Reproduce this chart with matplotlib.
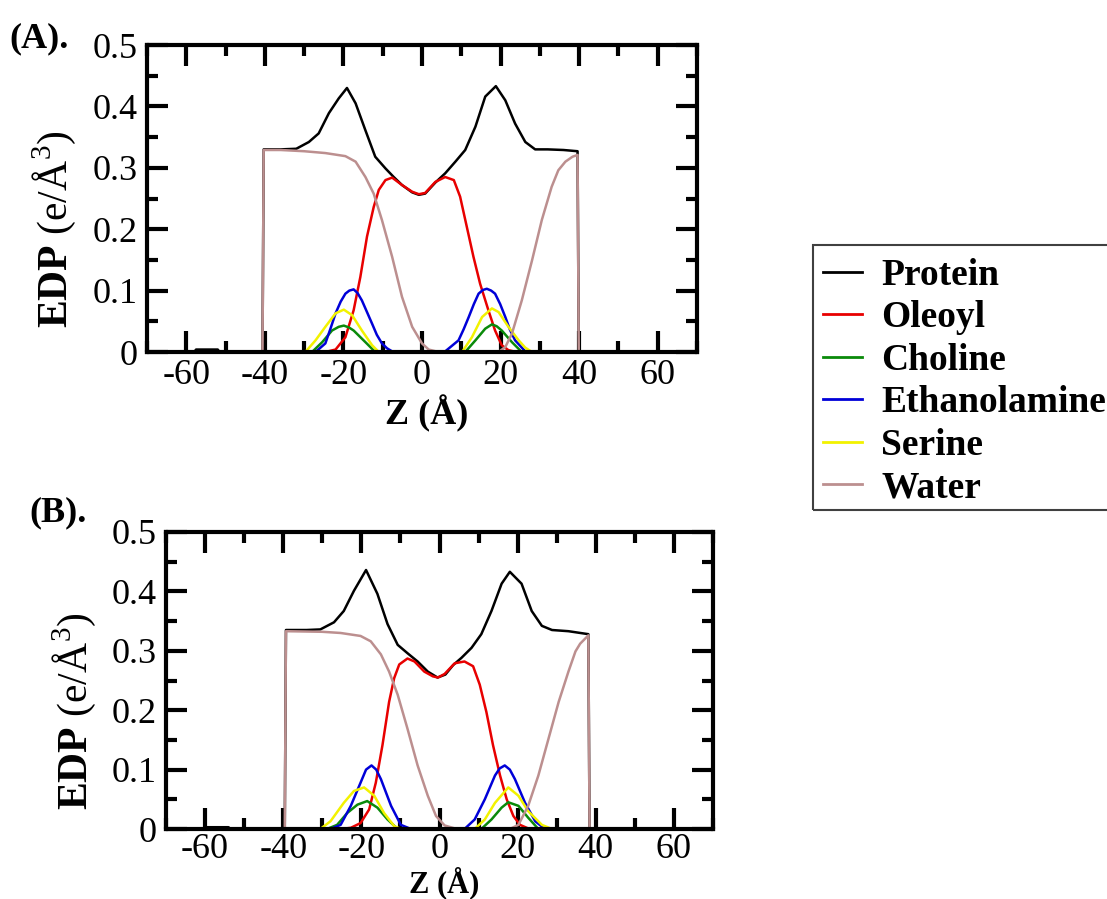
import matplotlib
matplotlib.use('Agg')
import matplotlib.pyplot as plt
from matplotlib.patches import Rectangle
from matplotlib.ticker import MultipleLocator

plt.rcParams['font.family'] = ['Liberation Serif', 'DejaVu Serif']
plt.rcParams['mathtext.fontset'] = 'custom'
plt.rcParams['mathtext.rm'] = 'Liberation Serif'
plt.rcParams['mathtext.bf'] = 'Liberation Serif:bold'

labels = ['Protein', 'Oleoyl', 'Choline', 'Ethanolamine', 'Serine', 'Water']
colors = ['black', '#e80000', '#0a8a0a', '#0000d8', '#f2f200', '#bc8f8f']

xticks = [-60, -40, -20, 0, 20, 40, 60]
yticks = [0, 0.1, 0.2, 0.3, 0.4, 0.5]
ytick_labels = ['0', '0.1', '0.2', '0.3', '0.4', '0.5']

# ---- panel A ----
prot_a_z = [-70, -58, -57.5, -52, -51.5, -40.6, -40.3, -36, -32, -28.8, -26.3, -23.7, -21.2, -19.1,
            -16.9, -14.4, -11.9, -9.3, -7.2, -5.1, -2.5, -0.8, 0.8, 3.4, 5.9, 8.5, 11, 13.6, 16.1,
            18.8, 21.2, 23.7, 26.3, 28.8, 32, 36, 39.6, 39.9, 70]
prot_a_v = [0, 0, 0.004, 0.004, 0, 0, 0.330, 0.330, 0.331, 0.342, 0.356, 0.389, 0.413, 0.430,
            0.405, 0.361, 0.318, 0.299, 0.285, 0.272, 0.260, 0.256, 0.258, 0.276, 0.291, 0.310, 0.329,
            0.367, 0.416, 0.433, 0.410, 0.372, 0.342, 0.330, 0.330, 0.329, 0.327, 0, 0]

oleo_a_z = [-24.6, -22, -19.5, -17.4, -15.7, -14, -12.3, -11, -9.3, -7.6, -5.1, -2.5, -0.8, 0.8,
            3.4, 5.9, 8.1, 9.7, 11.4, 13.1, 14.8, 16.9, 18.6, 20.3, 22, 24]
oleo_a_v = [0, 0.004, 0.024, 0.068, 0.122, 0.188, 0.236, 0.264, 0.280, 0.284, 0.272, 0.261, 0.257,
            0.259, 0.277, 0.285, 0.280, 0.253, 0.204, 0.155, 0.111, 0.068, 0.035, 0.011, 0.003, 0]

chol_a_z = [-28, -25.4, -22.9, -21.2, -19.9, -18.6, -17.4, -14.4, -11.9,
            11, 13.6, 16.1, 17.8, 19, 20.3, 22.9, 25.4]
chol_a_v = [0, 0.016, 0.035, 0.041, 0.043, 0.040, 0.035, 0.016, 0,
            0, 0.019, 0.038, 0.045, 0.042, 0.035, 0.016, 0]

etha_a_z = [-27.1, -24.6, -23.3, -22, -20.7, -19.5, -18.5, -17.4, -16.4, -15.3, -14, -12.7, -11.5,
            -10.2, -8.9, -7.6, 5.9, 9.3, 10.6, 11.9, 13.2, 14.4, 15.5, 16.5, 17.6, 18.6, 19.9, 21.2,
            22.4, 23.7, 26.3]
etha_a_v = [0, 0.014, 0.038, 0.063, 0.082, 0.095, 0.100, 0.102, 0.096, 0.084, 0.065, 0.046, 0.028,
            0.014, 0.006, 0.001, 0.001, 0.019, 0.037, 0.057, 0.078, 0.095, 0.101, 0.103, 0.100, 0.095,
            0.078, 0.057, 0.036, 0.019, 0.001]

seri_a_z = [-29.7, -27.1, -24.6, -22, -19.9, -17.8, -15.3, -12.7, -11,
            10.2, 12.7, 15.3, 17.8, 19.5, 22, 24.6, 26.3, 28]
seri_a_v = [0, 0.019, 0.041, 0.063, 0.069, 0.060, 0.035, 0.011, 0,
            0, 0.024, 0.057, 0.071, 0.065, 0.041, 0.019, 0.007, 0]

wat_a_z = [-70, -40.6, -40.3, -36, -30, -24.6, -19.5, -16.9, -14.4, -12.3, -10.2, -7.6, -5.1, -2.5,
           0, 1.7, 4.2, 19.5, 21.2, 22.9, 25.4, 28, 30.5, 33, 34.7, 36.5, 38.3, 39.6, 39.9, 70]
wat_a_v = [0, 0, 0.329, 0.329, 0.327, 0.324, 0.319, 0.310, 0.285, 0.258, 0.215, 0.155, 0.090, 0.041,
           0.014, 0.004, 0, 0, 0.008, 0.030, 0.084, 0.149, 0.215, 0.269, 0.296, 0.310, 0.318, 0.321, 0, 0]

# ---- panel B ----
prot_b_z = [-70, -60, -59.5, -54, -53.5, -39.6, -39.3, -34, -30.5, -27, -24.5, -21.9, -18.8, -15.9,
            -13.3, -10.7, -8.2, -5.6, -3, -0.5, 1.5, 3.5, 5.6, 8.2, 10.7, 13.3, 15.9, 18, 21, 23.6,
            26.2, 28.8, 33, 38.1, 38.4, 70]
prot_b_v = [0, 0, 0.003, 0.003, 0, 0, 0.335, 0.335, 0.336, 0.348, 0.367, 0.401, 0.436, 0.396,
            0.345, 0.310, 0.296, 0.282, 0.265, 0.255, 0.260, 0.276, 0.288, 0.305, 0.328, 0.367, 0.413,
            0.433, 0.413, 0.367, 0.342, 0.335, 0.333, 0.328, 0, 0]

oleo_b_z = [-25.3, -22.7, -20.2, -18, -16.3, -14.6, -12.9, -11.6, -10.3, -8.2, -6.4, -3.9, -1.7,
            -0.4, 1.3, 3.9, 6.4, 8.6, 10.3, 12, 13.7, 15.5, 17.2, 18.9, 20.6, 22.7]
oleo_b_v = [0, 0.002, 0.010, 0.033, 0.078, 0.141, 0.214, 0.254, 0.277, 0.287, 0.282, 0.265, 0.257,
            0.255, 0.261, 0.279, 0.282, 0.274, 0.243, 0.197, 0.141, 0.090, 0.050, 0.022, 0.007, 0.001]

chol_b_z = [-28.8, -26.2, -23.6, -21, -18.5, -15.9, -13.3, -10.7,
            10.7, 13.3, 15.9, 17.6, 20.2, 22.7, 25.3]
chol_b_v = [0, 0.007, 0.027, 0.041, 0.047, 0.036, 0.016, 0,
            0, 0.016, 0.036, 0.045, 0.039, 0.019, 0]

etha_b_z = [-27.9, -25.3, -22.7, -20.2, -18.8, -17.4, -16.2, -15, -12.4, -9.9, -7.3,
            6.4, 9, 11.6, 14.2, 15.4, 16.7, 18, 19.3, 21.9, 24.5, 27]
etha_b_v = [0, 0.007, 0.039, 0.078, 0.100, 0.107, 0.100, 0.084, 0.039, 0.007, 0,
            0, 0.016, 0.050, 0.090, 0.102, 0.107, 0.100, 0.084, 0.044, 0.013, 0]

seri_b_z = [-30.5, -27.9, -24.5, -21.9, -19.3, -16.7, -14.2, -11.6, -9.9,
            9, 11.6, 14.2, 17.6, 20.2, 22.7, 26.2, 28.8]
seri_b_v = [0, 0.013, 0.044, 0.064, 0.070, 0.056, 0.027, 0.005, 0,
            0, 0.016, 0.044, 0.070, 0.056, 0.030, 0.007, 0]

wat_b_z = [-70, -39.6, -39.3, -30, -25.3, -20.2, -17.6, -15, -12.9, -10.7, -8.2, -5.6, -3, -0.9,
           1.3, 3.9, 18, 20.2, 22.7, 25.3, 27.9, 30.5, 33, 34.8, 36, 37.5, 38.1, 38.4, 70]
wat_b_v = [0, 0, 0.333, 0.332, 0.330, 0.325, 0.316, 0.294, 0.265, 0.226, 0.169, 0.107, 0.056, 0.022,
           0.006, 0.001, 0, 0.007, 0.039, 0.090, 0.152, 0.214, 0.265, 0.299, 0.312, 0.322, 0.326, 0, 0]

panel_a = [(prot_a_z, prot_a_v), (oleo_a_z, oleo_a_v), (chol_a_z, chol_a_v),
           (etha_a_z, etha_a_v), (seri_a_z, seri_a_v), (wat_a_z, wat_a_v)]
panel_b = [(prot_b_z, prot_b_v), (oleo_b_z, oleo_b_v), (chol_b_z, chol_b_v),
           (etha_b_z, etha_b_v), (seri_b_z, seri_b_v), (wat_b_z, wat_b_v)]


def draw_panel(ax, series, xlabel_size=26, xpad=5):
    handles = []
    for (z, v), lab, col in zip(series, labels, colors):
        h, = ax.plot(z, v, color=col, lw=1.8, label=lab)
        handles.append(h)
    ax.set_xlim(-70, 70)
    ax.set_ylim(0, 0.5)
    ax.set_xticks(xticks)
    ax.set_xticklabels([str(t) for t in xticks])
    ax.set_yticks(yticks)
    ax.set_yticklabels(ytick_labels)
    ax.xaxis.set_minor_locator(MultipleLocator(10))
    ax.yaxis.set_minor_locator(MultipleLocator(0.05))
    ax.tick_params(which='both', direction='in', top=True, right=True, width=3)
    ax.tick_params(which='major', length=15, labelsize=26)
    ax.tick_params(axis='x', which='major', pad=xpad)
    ax.tick_params(axis='y', which='major', pad=7)
    ax.tick_params(which='minor', length=8)
    for sp in ax.spines.values():
        sp.set_linewidth(3)
    ax.set_xlabel('Z (Å)', fontsize=xlabel_size, fontweight='bold')
    ax.set_ylabel(r'$\mathbf{EDP}$ (e/Å$^{3}$)', fontsize=30)
    return handles


fig = plt.figure(figsize=(11.07, 8.99), dpi=100)
W, H = 1107, 899

ax_a = fig.add_axes([147 / W, 1 - 352 / H, 550 / W, 307 / H])
handles = draw_panel(ax_a, panel_a)
ax_a.yaxis.set_label_coords(-0.125, 0.40)
ax_a.xaxis.set_label_coords(0.509, -0.14)

# bottom panel has little room below it, so its x label sits tight
ax_b = fig.add_axes([166 / W, 1 - 829 / H, 547 / W, 297 / H])
draw_panel(ax_b, panel_b, xlabel_size=22, xpad=3)
ax_b.yaxis.set_label_coords(-0.124, 0.397)
ax_b.xaxis.set_label_coords(0.508, -0.127)

fig.text(9 / W, 1 - 47 / H, '(A).', fontsize=26, fontweight='bold', va='baseline')
fig.text(29 / W, 1 - 521 / H, '(B).', fontsize=26, fontweight='bold', va='baseline')

# legend box runs past the right edge of the figure
fig.add_artist(Rectangle((813 / W, 1 - 510 / H), 320 / W, 265 / H, transform=fig.transFigure,
                         fill=False, edgecolor='#404040', linewidth=1.5, clip_on=False))
leg = fig.legend(handles, labels, loc='upper left', bbox_to_anchor=(823 / W, 1 - 258 / H),
                 borderaxespad=0, frameon=False, handlelength=1.05, handletextpad=0.5,
                 borderpad=0, labelspacing=0.2,
                 prop={'family': 'Liberation Serif', 'weight': 'bold', 'size': 27})
for line in leg.get_lines():
    line.set_linewidth(2)

fig.savefig('out.png', dpi=100)
plt.close(fig)
